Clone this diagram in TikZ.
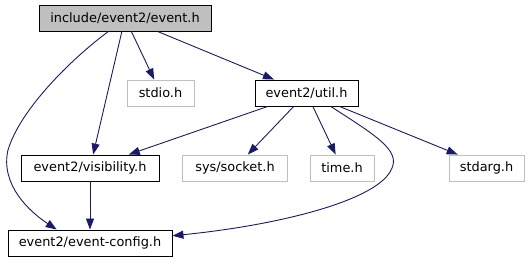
\documentclass[tikz,border=0pt]{standalone}
\usepackage{fontspec}
\setmainfont{DejaVu Sans}
\usepackage{tikz}
\usetikzlibrary{arrows.meta,positioning}
\definecolor{edgeblue}{HTML}{191970}
\definecolor{sysgray}{HTML}{BFBFBF}

\begin{document}
\begin{tikzpicture}[x=1pt, y=-1pt, font=\fontsize{12.9}{15}\selectfont,
  box/.style={draw, line width=0.9pt, minimum height=26pt, inner sep=0pt},
  root/.style={box, fill=sysgray},
  syshdr/.style={box, draw=sysgray},
  edge/.style={-{Triangle[length=11pt, width=8pt]}, draw=edgeblue, line width=0.9pt}]
\useasboundingbox (0,0) rectangle (529,261);
\node[root, minimum width=172pt] (ev) at (125,18) {include/event2/event.h};
\node[syshdr, minimum width=67pt] (stdio) at (160.5,93) {stdio.h};
\node[box, minimum width=103pt] (util) at (306.5,93) {event2/util.h};
\node[box, minimum width=138pt] (vis) at (90,168) {event2/visibility.h};
\node[syshdr, minimum width=105pt] (sock) at (235,168) {sys/socket.h};
\node[syshdr, minimum width=64pt] (time) at (342,168) {time.h};
\node[syshdr, minimum width=75pt] (sarg) at (486.5,168) {stdarg.h};
\node[box, minimum width=164pt] (cfg) at (90,243) {event2/event-config.h};
\draw[edge] (ev.219) .. controls (70,60) and (20,110) .. (8,150) .. controls (0,185) and (30,212) .. (cfg.158);
\draw[edge] (ev) -- (vis);
\draw[edge] (ev) -- (stdio);
\draw[edge] (ev) -- (util);
\draw[edge] (util) -- (vis);
\draw[edge] (util) -- (sock);
\draw[edge] (util) -- (time);
\draw[edge] (util.331) .. controls (375,135) and (400,150) .. (392,168) .. controls (380,200) and (280,225) .. (cfg.5);
\draw[edge] (util) -- (sarg.155);
\draw[edge] (vis) -- (cfg);
\end{tikzpicture}
\end{document}
